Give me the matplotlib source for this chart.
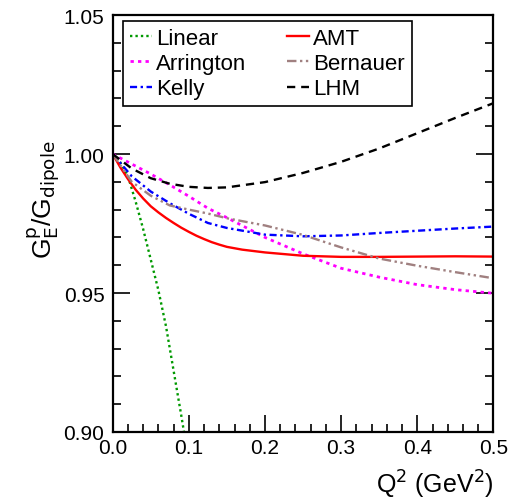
import numpy as np
import matplotlib
matplotlib.use("Agg")
from matplotlib import pyplot as plt
from matplotlib.ticker import MultipleLocator, FormatStrFormatter

plt.rcParams['font.family'] = ['Liberation Sans', 'DejaVu Sans']

# Q^2 values (GeV^2) and G_E/G_dipole
q2_lin = [0.0, 0.01, 0.02, 0.03, 0.04, 0.05, 0.06, 0.07, 0.08, 0.09, 0.096]
ge_lin = [1.0, 0.997, 0.992, 0.983, 0.973, 0.962, 0.951, 0.938, 0.922, 0.906, 0.896]

q2_amt = [0.0, 0.01, 0.02, 0.03, 0.04, 0.05, 0.06, 0.07, 0.08, 0.09, 0.10, 0.11, 0.12, 0.13,
          0.14, 0.15, 0.17, 0.2, 0.25, 0.3, 0.35, 0.4, 0.45, 0.5]
ge_amt = [1.0, 0.9952, 0.9910, 0.9872, 0.9840, 0.9812, 0.9790, 0.9770, 0.9752, 0.9735, 0.9720,
          0.9706, 0.9694, 0.9683, 0.9674, 0.9666, 0.9656, 0.9646, 0.9634, 0.9630, 0.9630,
          0.9631, 0.9632, 0.9631]

q2 = [0.0, 0.025, 0.05, 0.075, 0.1, 0.125, 0.15, 0.2, 0.25, 0.3, 0.35, 0.4, 0.45, 0.5]
ge_arr = [1.0, 0.9964, 0.9928, 0.9889, 0.9848, 0.9805, 0.9771, 0.9700, 0.9641, 0.9589, 0.9557, 0.9530, 0.9512, 0.9499]
ge_kel = [1.0, 0.9920, 0.9865, 0.9823, 0.9785, 0.9752, 0.9734, 0.9710, 0.9704, 0.9707, 0.9716, 0.9724, 0.9732, 0.9739]
ge_ber = [1.0, 0.9900, 0.9850, 0.9815, 0.9800, 0.9786, 0.9769, 0.9743, 0.9709, 0.9664, 0.9624, 0.9598, 0.9575, 0.9553]
ge_lhm = [1.0, 0.9948, 0.9913, 0.9893, 0.9882, 0.9878, 0.9880, 0.9899, 0.9932, 0.9972, 1.0020, 1.0075, 1.0130, 1.0183]

fig = plt.figure(figsize=(5.1, 5.02), dpi=100)
ax = fig.add_axes([0.221, 0.1375, 0.7465, 0.8305])

lw = 1.7
ax.plot(q2_lin, ge_lin, color='#009900', ls=(0, (1, 1.3)), lw=lw, label='Linear')
ax.plot(q2, ge_arr, color='#ff00ff', ls=(0, (1.2, 1.5)), lw=lw + 0.3, label='Arrington')
ax.plot(q2, ge_kel, color='#0000ff', ls=(0, (3, 1.5, 1, 1.5)), lw=lw, label='Kelly')
ax.plot(q2_amt, ge_amt, color='#ff0000', ls='-', lw=lw, label='AMT')
ax.plot(q2, ge_ber, color='#a08080', ls=(0, (4, 1.5, 1, 1.5, 1, 1.5)), lw=lw, label='Bernauer')
ax.plot(q2, ge_lhm, color='black', ls=(0, (3.5, 2.5)), lw=lw, label='LHM')

ax.set_xlim(0, 0.5)
ax.set_ylim(0.90, 1.05)
ax.xaxis.set_major_locator(MultipleLocator(0.1))
ax.xaxis.set_minor_locator(MultipleLocator(0.02))
ax.yaxis.set_major_locator(MultipleLocator(0.05))
ax.yaxis.set_minor_locator(MultipleLocator(0.01))
ax.xaxis.set_major_formatter(FormatStrFormatter('%.1f'))
ax.yaxis.set_major_formatter(FormatStrFormatter('%.2f'))
ax.tick_params(which='both', direction='in', right=True, top=False, labelsize=15, width=1.2)
ax.tick_params(which='major', length=12)
ax.tick_params(which='minor', length=6)
ax.tick_params(axis='x', pad=4)
ax.tick_params(axis='y', pad=6)
for s in ax.spines.values():
    s.set_linewidth(1.6)

ax.set_xlabel(r'Q$^{2}$ (GeV$^{2}$)', fontsize=18, loc='right', labelpad=8)
ax.set_ylabel(r'G$_{\mathrm{E}}^{\mathrm{p}}$/G$_{\mathrm{dipole}}$', fontsize=19)
ax.yaxis.set_label_coords(-0.132, 0.56)

leg = ax.legend(ncol=2, loc='upper left', bbox_to_anchor=(0.027, 0.986), borderaxespad=0,
                fontsize=16, handlelength=1.0, handletextpad=0.2, columnspacing=1.8,
                labelspacing=0.2, borderpad=0.3, fancybox=False, edgecolor='black', framealpha=1)
leg.get_frame().set_linewidth(1.2)

fig.savefig('out.png', dpi=100)
